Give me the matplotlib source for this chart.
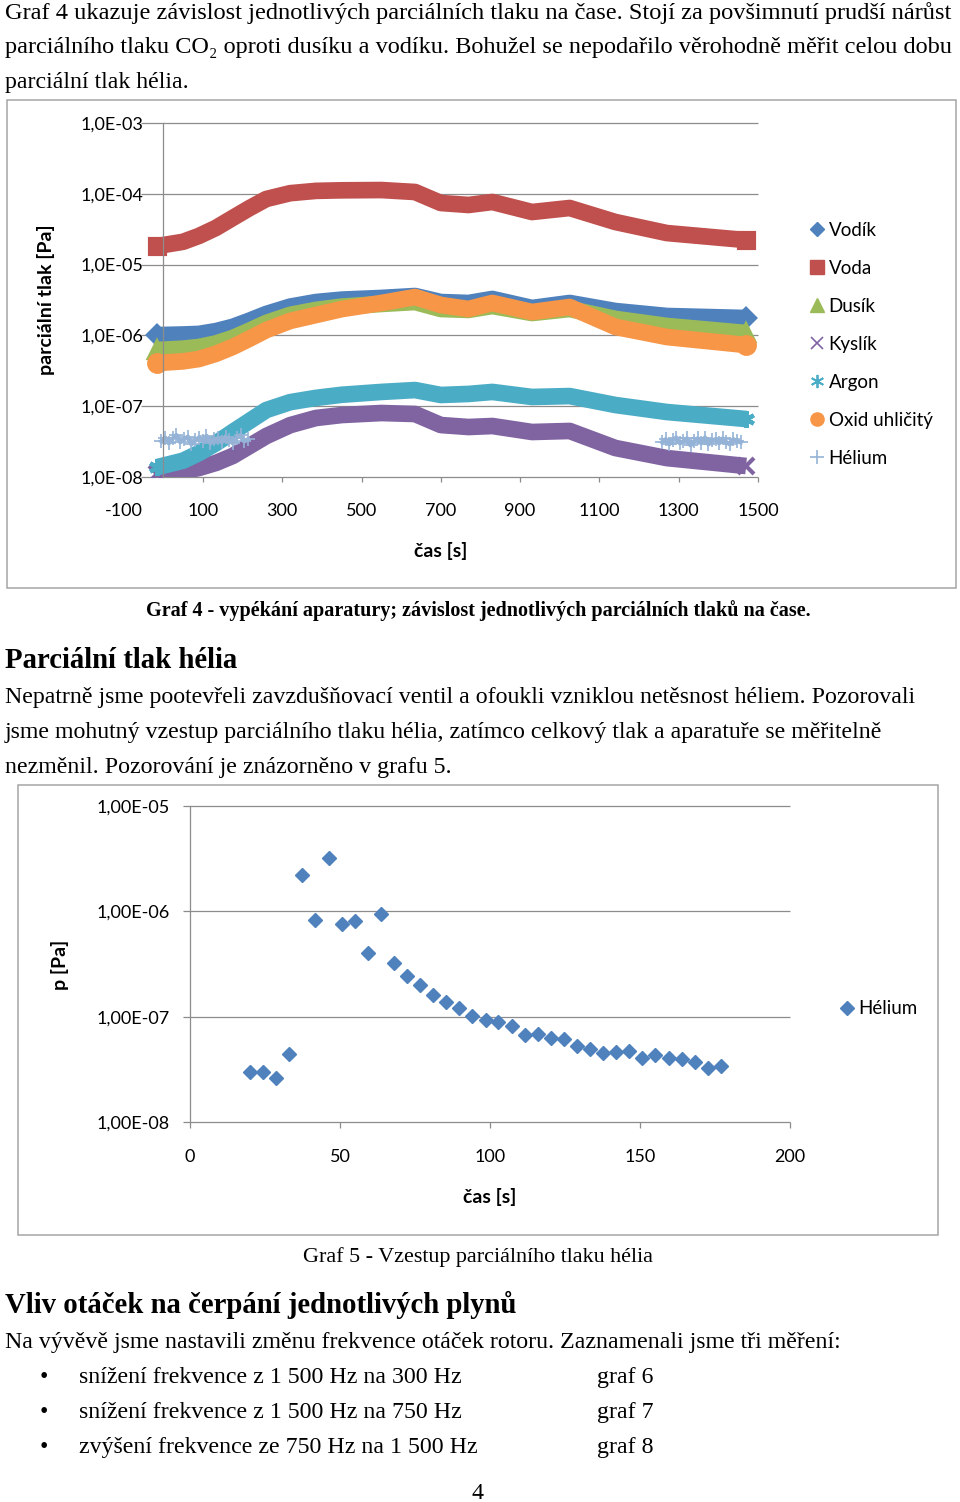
import matplotlib
matplotlib.use('Agg')
import matplotlib.pyplot as plt
from matplotlib.lines import Line2D
from matplotlib.patches import Rectangle
from matplotlib.ticker import NullLocator

plt.rcParams['font.family'] = ['Lato', 'DejaVu Sans']

# ---------------- data: graf 4 ----------------
t_main = [-15, 50, 90, 133, 175, 218, 260, 320, 385, 450, 550, 635, 700, 770, 830,
          930, 1025, 1140, 1270, 1470]
vodik = [1.01e-6, 1.03e-6, 1.05e-6, 1.15e-6, 1.32e-6, 1.62e-6, 2.01e-6, 2.55e-6, 2.96e-6,
         3.20e-6, 3.38e-6, 3.60e-6, 2.96e-6, 2.87e-6, 3.27e-6, 2.44e-6, 2.87e-6,
         2.21e-6, 1.88e-6, 1.76e-6]
voda = [1.83e-5, 2.10e-5, 2.54e-5, 3.30e-5, 4.55e-5, 6.30e-5, 8.45e-5, 1.02e-4, 1.10e-4,
        1.12e-4, 1.13e-4, 1.06e-4, 7.41e-5, 6.95e-5, 7.66e-5, 5.53e-5, 6.30e-5,
        4.00e-5, 2.79e-5, 2.22e-5]
dusik = [6.22e-7, 6.50e-7, 6.86e-7, 7.70e-7, 9.18e-7, 1.17e-6, 1.50e-6, 1.95e-6, 2.29e-6,
         2.55e-6, 2.78e-6, 2.96e-6, 2.36e-6, 2.29e-6, 2.60e-6, 2.07e-6, 2.36e-6,
         1.71e-6, 1.36e-6, 1.08e-6]
kyslik = [1.10e-8, 1.20e-8, 1.34e-8, 1.58e-8, 1.98e-8, 2.75e-8, 3.79e-8, 5.40e-8, 6.81e-8,
          7.50e-8, 8.01e-8, 7.76e-8, 5.42e-8, 5.08e-8, 5.25e-8, 4.32e-8, 4.47e-8,
          2.57e-8, 1.85e-8, 1.43e-8]
argon = [1.38e-8, 1.70e-8, 2.18e-8, 3.00e-8, 4.32e-8, 6.20e-8, 8.83e-8, 1.14e-7, 1.31e-7,
         1.45e-7, 1.59e-7, 1.69e-7, 1.44e-7, 1.49e-7, 1.59e-7, 1.35e-7, 1.39e-7,
         1.04e-7, 8.28e-8, 6.59e-8]
oxid = [4.07e-7, 4.30e-7, 4.64e-7, 5.50e-7, 6.86e-7, 9.00e-7, 1.19e-6, 1.60e-6, 1.94e-6,
        2.35e-6, 2.87e-6, 3.48e-6, 2.69e-6, 2.36e-6, 2.87e-6, 2.14e-6, 2.52e-6,
        1.32e-6, 9.49e-7, 7.31e-7]
t_he1 = [-5, 5, 14, 24, 33, 43, 52, 62, 71, 81, 90, 100, 109, 119, 128, 138,
         147, 157, 166, 176, 185, 195, 204, 214]
he1 = [3.2e-8, 3.6e-8, 3.0e-8, 3.5e-8, 3.9e-8, 3.1e-8, 3.4e-8, 3.7e-8, 2.9e-8, 3.3e-8,
       3.6e-8, 3.2e-8, 3.8e-8, 3.0e-8, 3.4e-8, 3.5e-8, 3.1e-8, 3.7e-8, 3.3e-8, 3.0e-8,
       3.6e-8, 3.9e-8, 3.2e-8, 3.4e-8]
t_he2 = [1258, 1267, 1276, 1285, 1294, 1303, 1312, 1321, 1330, 1339, 1348, 1357,
         1366, 1375, 1384, 1393, 1402, 1411, 1420, 1429, 1438, 1447, 1456]
he2 = [3.1e-8, 3.4e-8, 2.9e-8, 3.3e-8, 3.6e-8, 3.0e-8, 3.2e-8, 3.5e-8, 2.8e-8, 3.2e-8,
       3.5e-8, 3.0e-8, 3.6e-8, 2.9e-8, 3.3e-8, 3.4e-8, 3.0e-8, 3.5e-8, 3.1e-8, 2.9e-8,
       3.4e-8, 3.2e-8, 3.1e-8]
g4_yticks = [1e-8, 1e-7, 1e-6, 1e-5, 1e-4, 1e-3]
g4_ylabels = ['1,0E-08', '1,0E-07', '1,0E-06', '1,0E-05', '1,0E-04', '1,0E-03']
g4_xticks = [-100, 100, 300, 500, 700, 900, 1100, 1300, 1500]

# ---------------- data: graf 5 ----------------
t_g5 = [20, 24.4, 28.7, 33.1, 37.4, 41.8, 46.2, 50.5, 54.9, 59.2, 63.6, 68, 72.3,
        76.7, 81, 85.4, 89.8, 94.1, 98.5, 102.8, 107.2, 111.5, 115.9, 120.3, 124.6,
        129, 133.3, 137.7, 142.1, 146.4, 150.8, 155.1, 159.5, 163.9, 168.2, 172.6, 177]
p_g5 = [2.98e-8, 2.98e-8, 2.61e-8, 4.42e-8, 2.21e-6, 8.26e-7, 3.20e-6, 7.57e-7,
        8.09e-7, 4.02e-7, 9.42e-7, 3.23e-7, 2.43e-7, 2.00e-7, 1.60e-7, 1.38e-7,
        1.21e-7, 1.01e-7, 9.29e-8, 8.89e-8, 8.15e-8, 6.69e-8, 6.84e-8, 6.27e-8,
        6.13e-8, 5.26e-8, 4.92e-8, 4.51e-8, 4.61e-8, 4.71e-8, 4.04e-8, 4.32e-8,
        4.04e-8, 3.95e-8, 3.70e-8, 3.25e-8, 3.40e-8]
g5_yticks = [1e-8, 1e-7, 1e-6, 1e-5]
g5_ylabels = ['1,00E-08', '1,00E-07', '1,00E-06', '1,00E-05']
g5_xticks = [0, 50, 100, 150, 200]

# ---------------- styles ----------------
W, H = 960, 1502
C_BLUE, C_RED, C_GREEN = '#4F81BD', '#C0504D', '#9BBB59'
C_PURPLE, C_TEAL, C_ORANGE, C_HE = '#8064A2', '#4BACC6', '#F79646', '#95B3D7'
GRID = '#8c8c8c'
SERIF = ['Liberation Serif', 'DejaVu Serif']
SANS = ['Lato', 'DejaVu Sans']
TICK_FS = 13
LAB_FS = 14
LEG_FS = 13.5

fig = plt.figure(figsize=(W / 100, H / 100), dpi=100)
renderer = fig.canvas.get_renderer()


def fx(px):
    return px / W


def fy(py):
    return 1 - py / H


def fit(text, family, weight, target_px, base=16.0):
    t = fig.text(0, 0, text, fontsize=base, family=family, weight=weight)
    w = t.get_window_extent(renderer).width
    t.remove()
    return base * target_px / w


# ---------------- page text ----------------
body_fs = fit('Na vývěvě jsme nastavili změnu frekvence otáček rotoru. Zaznamenali jsme tři měření:',
              SERIF, 'normal', 835)

line1 = 'Graf 4 ukazuje závislost jednotlivých parciálních tlaku na čase. Stojí za povšimnutí prudší nárůst'
line2 = 'parciálního tlaku CO₂ oproti dusíku a vodíku. Bohužel se nepodařilo věrohodně měřit celou dobu'
fig.text(fx(5), fy(19), line1, family=SERIF, fontsize=fit(line1, SERIF, 'normal', 947), va='baseline')
fig.text(fx(5), fy(53), line2, family=SERIF, fontsize=fit(line2, SERIF, 'normal', 947), va='baseline')
fig.text(fx(5), fy(88), 'parciální tlak hélia.', family=SERIF, fontsize=body_fs, va='baseline')

cap4 = 'Graf 4 - vypékání aparatury; závislost jednotlivých parciálních tlaků na čase.'
fig.text(fx(478), fy(616), cap4, family=SERIF, weight='bold',
         fontsize=fit(cap4, SERIF, 'bold', 666), ha='center', va='baseline')

head1 = 'Parciální tlak hélia'
head_fs = fit('Vliv otáček na čerpání jednotlivých plynů', SERIF, 'bold', 513)
fig.text(fx(5), fy(668), head1, family=SERIF, weight='bold', fontsize=head_fs, va='baseline')

para = ['Nepatrně jsme pootevřeli zavzdušňovací ventil a ofoukli vzniklou netěsnost héliem. Pozorovali',
        'jsme mohutný vzestup parciálního tlaku hélia, zatímco celkový tlak a aparatuře se měřitelně',
        'nezměnil. Pozorování je znázorněno v grafu 5.']
for i, ln in enumerate(para):
    fig.text(fx(5), fy(703 + 35 * i), ln, family=SERIF, fontsize=body_fs, va='baseline')

cap5 = 'Graf 5 - Vzestup parciálního tlaku hélia'
fig.text(fx(478), fy(1262), cap5, family=SERIF, fontsize=body_fs * 0.93, ha='center', va='baseline')

fig.text(fx(5), fy(1313), 'Vliv otáček na čerpání jednotlivých plynů', family=SERIF, weight='bold',
         fontsize=head_fs, va='baseline')
fig.text(fx(5), fy(1348), 'Na vývěvě jsme nastavili změnu frekvence otáček rotoru. Zaznamenali jsme tři měření:',
         family=SERIF, fontsize=body_fs, va='baseline')
bullets = ['snížení frekvence z 1 500 Hz na 300 Hz',
           'snížení frekvence z 1 500 Hz na 750 Hz',
           'zvýšení frekvence ze 750 Hz na 1 500 Hz']
grafs = ['graf 6', 'graf 7', 'graf 8']
for i, (b, g) in enumerate(zip(bullets, grafs)):
    yb = fy(1383 + 35 * i)
    fig.text(fx(40), yb, '•', family=SERIF, fontsize=body_fs, va='baseline')
    fig.text(fx(79), yb, b, family=SERIF, fontsize=body_fs, va='baseline')
    fig.text(fx(597), yb, g, family=SERIF, fontsize=body_fs, va='baseline')
fig.text(fx(478), fy(1499), '4', family=SERIF, fontsize=body_fs, ha='center', va='baseline')

# ---------------- chart boxes ----------------
for (x0, y0, x1, y1) in [(7, 100, 956, 588), (18, 785, 938, 1235)]:
    fig.add_artist(Rectangle((fx(x0), fy(y1)), (x1 - x0) / W, (y1 - y0) / H,
                             transform=fig.transFigure, fill=False,
                             edgecolor='#a6a6a6', linewidth=1.1))

# ---------------- graf 4 ----------------
ax1 = fig.add_axes([fx(123.6), fy(477), (758 - 123.6) / W, (477 - 123) / H])
ax1.set_yscale('log')
ax1.set_xlim(-100, 1500)
ax1.set_ylim(1e-8, 1e-3)
for s in ['top', 'right', 'bottom']:
    ax1.spines[s].set_visible(False)
ax1.spines['left'].set_position(('data', 0))
ax1.spines['left'].set_color(GRID)
ax1.spines['left'].set_linewidth(0.9)
ax1.hlines(g4_yticks, -56, 1500, color=GRID, lw=0.9, zorder=0.5, clip_on=False)
ax1.set_yticks(g4_yticks)
ax1.set_yticklabels(g4_ylabels)
ax1.yaxis.set_minor_locator(NullLocator())
ax1.tick_params(axis='y', length=0, pad=14.4, labelsize=TICK_FS)
ax1.set_xticks(g4_xticks)
ax1.set_xticklabels([str(v) for v in g4_xticks])
ax1.tick_params(axis='x', direction='out', length=3.6, width=0.9, color=GRID,
                pad=15, labelsize=TICK_FS)
ax1.xaxis.get_major_ticks()[0].tick1line.set_visible(False)

LW = 12
MS = 12
series = [
    (t_main, vodik, C_BLUE, 'D', MS * 0.75, 'Vodík'),
    (t_main, voda, C_RED, 's', MS * 0.9, 'Voda'),
    (t_main, dusik, C_GREEN, '^', MS, 'Dusík'),
    (t_main, kyslik, C_PURPLE, 'x', MS, 'Kyslík'),
    (t_main, argon, C_TEAL, (6, 2, 0), MS, 'Argon'),
    (t_main, oxid, C_ORANGE, 'o', MS, 'Oxid uhličitý'),
]
for tt, vv, c, m, ms, lab in series:
    ax1.plot(tt, vv, color=c, lw=LW, solid_joinstyle='round', solid_capstyle='butt',
             marker=m, markevery=[0, len(tt) - 1], markersize=ms, markeredgewidth=3,
             markeredgecolor=c, markerfacecolor=c)
for tt, vv in [(t_he1, he1), (t_he2, he2)]:
    ax1.plot(tt, vv, color=C_HE, lw=3.2, marker='+', markersize=10, markeredgewidth=1.2)

handles = [
    Line2D([], [], ls='none', marker='D', color=C_BLUE, markersize=7),
    Line2D([], [], ls='none', marker='s', color=C_RED, markersize=9.5),
    Line2D([], [], ls='none', marker='^', color=C_GREEN, markersize=9.5),
    Line2D([], [], ls='none', marker='x', color=C_PURPLE, markersize=8.5, markeredgewidth=1.2),
    Line2D([], [], ls='none', marker=(6, 2, 0), color=C_TEAL, markersize=9.5, markeredgewidth=1.3),
    Line2D([], [], ls='none', marker='o', color=C_ORANGE, markersize=9.5),
    Line2D([], [], ls='none', marker='+', color=C_HE, markersize=9.5, markeredgewidth=1.2),
]
labels = ['Vodík', 'Voda', 'Dusík', 'Kyslík', 'Argon', 'Oxid uhličitý', 'Hélium']
ax1.legend(handles, labels, loc='upper left', bbox_to_anchor=(fx(809), fy(222)),
           bbox_transform=fig.transFigure, frameon=False, fontsize=LEG_FS,
           handlelength=0.8, handletextpad=0.25, labelspacing=1.12,
           borderpad=0, borderaxespad=0)

fig.text(fx(46), fy(300), 'parciální tlak [Pa]', rotation=90, weight='bold', family=SANS,
         fontsize=LAB_FS, ha='center', va='center')
fig.text(fx(441), fy(551), 'čas [s]', weight='bold', family=SANS, fontsize=LAB_FS,
         ha='center', va='center')

# ---------------- graf 5 ----------------
ax2 = fig.add_axes([fx(190), fy(1122), 600 / W, (1122 - 806) / H])
ax2.set_yscale('log')
ax2.set_xlim(0, 200)
ax2.set_ylim(1e-8, 1e-5)
for s in ['top', 'right', 'bottom']:
    ax2.spines[s].set_visible(False)
ax2.spines['left'].set_color(GRID)
ax2.spines['left'].set_linewidth(0.9)
ax2.hlines(g5_yticks, -2.2, 200, color=GRID, lw=0.9, zorder=0.5, clip_on=False)
ax2.set_yticks(g5_yticks)
ax2.set_yticklabels(g5_ylabels)
ax2.yaxis.set_minor_locator(NullLocator())
ax2.tick_params(axis='y', length=0, pad=14.4, labelsize=TICK_FS)
ax2.set_xticks(g5_xticks)
ax2.set_xticklabels([str(v) for v in g5_xticks])
ax2.tick_params(axis='x', direction='out', length=4.3, width=0.9, color=GRID,
                pad=15, labelsize=TICK_FS)
ax2.plot(t_g5, p_g5, ls='none', marker='D', color=C_BLUE, markersize=6.8, clip_on=False)
ax2.legend([Line2D([], [], ls='none', marker='D', color=C_BLUE, markersize=7)], ['Hélium'],
           loc='center left', bbox_to_anchor=(fx(839), fy(1009)),
           bbox_transform=fig.transFigure, frameon=False, fontsize=LEG_FS,
           handlelength=0.8, handletextpad=0.25, borderpad=0, borderaxespad=0)
fig.text(fx(60), fy(965), 'p [Pa]', rotation=90, weight='bold', family=SANS,
         fontsize=LAB_FS, ha='center', va='center')
fig.text(fx(490), fy(1197), 'čas [s]', weight='bold', family=SANS, fontsize=LAB_FS,
         ha='center', va='center')

fig.savefig('out.png', dpi=100, facecolor='white')
